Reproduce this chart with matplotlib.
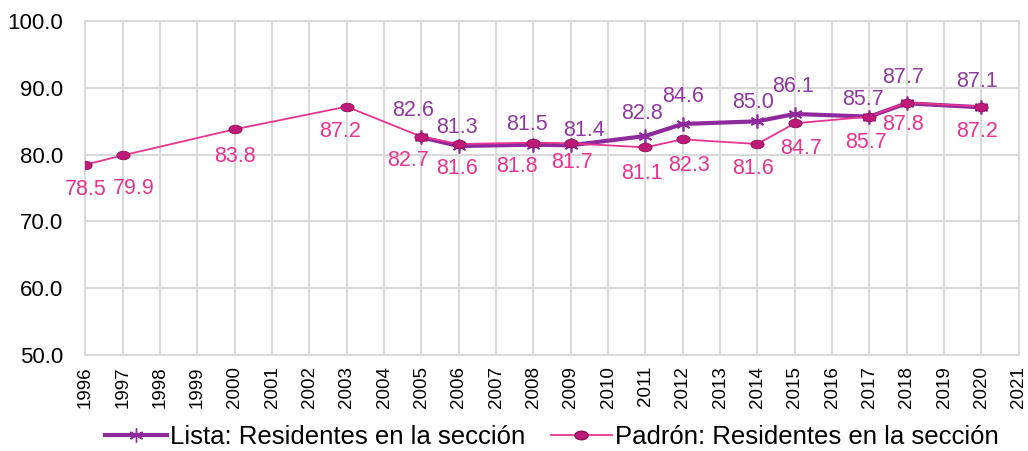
import matplotlib.pyplot as plt
from matplotlib.lines import Line2D
from matplotlib.path import Path
from matplotlib.transforms import Affine2D

plt.rcParams['font.family'] = ['Liberation Sans', 'DejaVu Sans']

# Lista: Residentes en la sección
lista_years = [2005, 2006, 2008, 2009, 2011, 2012, 2014, 2015, 2017, 2018, 2020]
lista_vals = [82.6, 81.3, 81.5, 81.4, 82.8, 84.6, 85.0, 86.1, 85.7, 87.7, 87.1]

# Padrón: Residentes en la sección
padron_years = [1996, 1997, 2000, 2003, 2005, 2006, 2008, 2009, 2011, 2012, 2014, 2015, 2017, 2018, 2020]
padron_vals = [78.5, 79.9, 83.8, 87.2, 82.7, 81.6, 81.8, 81.7, 81.1, 82.3, 81.6, 84.7, 85.7, 87.8, 87.2]

years = list(range(1996, 2022))
yticks = [50, 60, 70, 80, 90, 100]

lista_col = '#8E2A9C'
padron_col = '#E8348E'
lista_txt = '#8E3A9E'
padron_txt = '#E8348E'

# flattened sphere marker
ellipse = Path.unit_circle().transformed(Affine2D().scale(1.55, 1.0))

fig = plt.figure(figsize=(10.28, 4.51), dpi=100)
ax = fig.add_axes([0.083, 0.213, 0.908, 0.74])

ax.plot(lista_years, lista_vals, color=lista_col, lw=3, zorder=2,
        marker=(6, 2, 0), ms=10, mec=lista_col, mew=1.2)
ax.plot(padron_years, padron_vals, color=padron_col, lw=1.3, zorder=3,
        marker=ellipse, ms=9.5, mfc='#BE1A78', mec='#8E1058', mew=0.6)

# label offsets in pixels (dx, dy)
lista_off = [(-8, 27), (-2, 19), (-6, 20), (13, 15), (-3, 23), (0, 27), (-4, 19), (-2, 27), (-6, 17), (-4, 26), (-4, 26)]
padron_off = [(0, -25), (11, -33), (0, -27), (-7, -25), (-13, -24), (-2, -24), (-16, -24), (1, -19), (-3, -26), (6, -26),
              (-4, -24), (6, -25), (-3, -26), (-4, -22), (-4, -25)]

for x, v, o in zip(lista_years, lista_vals, lista_off):
    ax.annotate(f'{v:.1f}', (x, v), xytext=o, textcoords='offset pixels',
                ha='center', va='center', fontsize=15.5, color=lista_txt, zorder=5)
for x, v, o in zip(padron_years, padron_vals, padron_off):
    ax.annotate(f'{v:.1f}', (x, v), xytext=o, textcoords='offset pixels',
                ha='center', va='center', fontsize=15.5, color=padron_txt, zorder=5)

ax.set_xlim(1996, 2021)
ax.set_ylim(50, 100)
ax.set_xticks(years)
ax.set_xticklabels([str(y) for y in years], rotation=90, fontsize=13.5)
ax.set_yticks(yticks)
ax.set_yticklabels([f'{t:.1f}' for t in yticks], fontsize=16)
ax.tick_params(axis='y', length=0, pad=16)
ax.tick_params(axis='x', length=0, pad=8)
ax.grid(True, color='#D9D9D9', lw=1.5)
ax.set_axisbelow(True)
for s in ax.spines.values():
    s.set_color('#D9D9D9')
    s.set_linewidth(1.5)

handles = [
    Line2D([], [], color=lista_col, lw=3, marker=(6, 2, 0), ms=10, mec=lista_col),
    Line2D([], [], color=padron_col, lw=1.3, marker=ellipse, ms=9.5, mfc='#BE1A78', mec='#8E1058'),
]
fig.legend(handles, ['Lista: Residentes en la sección', 'Padrón: Residentes en la sección'],
           loc='center', bbox_to_anchor=(0.537, 0.031), ncol=2, frameon=False,
           fontsize=18.5, handlelength=2.4, handletextpad=0.1, columnspacing=1.0)

fig.savefig('out.png', dpi=100)
